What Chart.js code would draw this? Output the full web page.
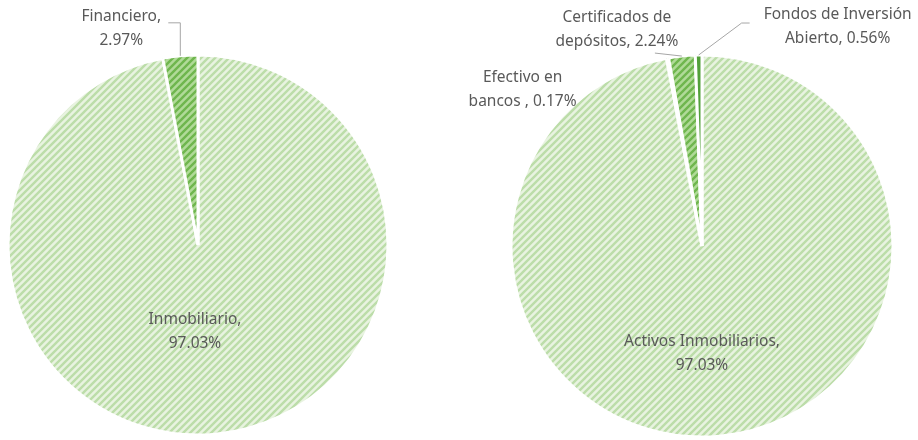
<!DOCTYPE html>
<html>
<head>
<meta charset="utf-8">
<script src="https://cdn.jsdelivr.net/npm/chart.js@4.4.1/dist/chart.umd.min.js"></script>
<style>
  html, body { margin: 0; padding: 0; background: #fff; }
  #wrap { position: relative; width: 918px; height: 440px; overflow: hidden; }
  .box { position: absolute; top: 0; height: 440px; }
  #left { left: 0; width: 396px; }
  #right { left: 459px; width: 459px; }
</style>
</head>
<body>
<div id="wrap">
  <div class="box" id="left"><canvas id="pieLeft"></canvas></div>
  <div class="box" id="right"><canvas id="pieRight"></canvas></div>
</div>
<script>
// Composicion de activos - two pies
const leftCategories = ['Inmobiliario', 'Financiero'];
const leftValues = [97.03, 2.97];

const rightCategories = ['Activos Inmobiliarios', 'Efectivo en bancos ', 'Certificados de depósitos', 'Fondos de Inversión Abierto'];
const rightValues = [97.03, 0.17, 2.24, 0.56];

const TEXT = '#595959';
const LEADER = '#a6a6a6';
const FONT = '15.5px "Noto Sans", sans-serif';

// upward diagonal hatch, like the Excel pattern fill
function hatch(bg, fg) {
  const n = 7;
  const c = document.createElement('canvas');
  c.width = n; c.height = n;
  const g = c.getContext('2d');
  g.fillStyle = bg;
  g.fillRect(0, 0, n, n);
  g.strokeStyle = fg;
  g.lineWidth = 2.4;
  g.beginPath();
  g.moveTo(-1, 1); g.lineTo(1, -1);
  g.moveTo(-1, n + 1); g.lineTo(n + 1, -1);
  g.moveTo(n - 1, n + 1); g.lineTo(n + 1, n - 1);
  g.stroke();
  return g.createPattern(c, 'repeat');
}

const mainFill = hatch('#e8f3e0', '#bcdda9');
const midFill = hatch('#b0da98', '#6fb64e');
const darkFill = '#52a03a';

// label placement: anchor 'center' = pie centre, 'outer' = arc midpoint on the rim
const leftLayout = [
  { brk: 1, anchor: 'center', dx: -3, dy: 87 },
  { brk: 1, anchor: 'outer', dx: -59, dy: -27, leader: [[-12, -33], [0, -33], [0, 0]] }
];
const rightLayout = [
  { brk: 2, anchor: 'center', dx: 0, dy: 108 },
  { brk: 2, anchor: 'outer', dx: -145, dy: 31 },
  { brk: 2, anchor: 'outer', dx: -65, dy: -26, leader: [[-27, -3], [0, 0]] },
  { brk: 3, anchor: 'outer', dx: 139, dy: -28, leader: [[51, -32], [43, -32], [0, 0]] }
];

const pieLabels = {
  id: 'pieLabels',
  afterDatasetsDraw(chart, args, opts) {
    const ctx = chart.ctx;
    const meta = chart.getDatasetMeta(0);
    const values = chart.data.datasets[0].data;
    ctx.save();
    ctx.font = FONT;
    ctx.textAlign = 'center';
    ctx.textBaseline = 'middle';
    meta.data.forEach((arc, i) => {
      const lay = opts.layout[i];
      if (!lay) return;
      const p = arc.getProps(['x', 'y', 'startAngle', 'endAngle', 'outerRadius'], true);
      const mid = (p.startAngle + p.endAngle) / 2;
      let ax = p.x, ay = p.y;
      if (lay.anchor === 'outer') {
        ax = p.x + Math.cos(mid) * p.outerRadius;
        ay = p.y + Math.sin(mid) * p.outerRadius;
      }
      if (lay.leader) {
        ctx.strokeStyle = LEADER;
        ctx.lineWidth = 1;
        ctx.beginPath();
        lay.leader.forEach((pt, k) => {
          const x = ax + pt[0], y = ay + pt[1];
          if (k === 0) ctx.moveTo(x, y); else ctx.lineTo(x, y);
        });
        ctx.stroke();
      }
      const text = chart.data.labels[i] + ', ' + values[i].toFixed(2) + '%';
      const words = text.split(' ');
      const lines = [words.slice(0, lay.brk).join(' '), words.slice(lay.brk).join(' ')];
      const lh = 24;
      const cx = ax + lay.dx, cy = ay + lay.dy;
      ctx.fillStyle = TEXT;
      lines.forEach((ln, k) => {
        ctx.fillText(ln, cx, cy + (k - (lines.length - 1) / 2) * lh);
      });
    });
    ctx.restore();
  }
};

function makePie(id, labels, values, colors, radius, padding, layout) {
  return new Chart(document.getElementById(id), {
    type: 'pie',
    data: {
      labels: labels,
      datasets: [{
        data: values,
        backgroundColor: colors,
        borderColor: '#ffffff',
        borderWidth: 3,
        radius: radius
      }]
    },
    options: {
      responsive: true,
      maintainAspectRatio: false,
      animation: false,
      events: [],
      layout: { padding: padding },
      plugins: {
        legend: { display: false },
        tooltip: { enabled: false },
        pieLabels: { layout: layout }
      }
    },
    plugins: [pieLabels]
  });
}

makePie('pieLeft', leftCategories, leftValues, [mainFill, midFill], 190, { top: 50 }, leftLayout);
makePie('pieRight', rightCategories, rightValues, [mainFill, midFill, midFill, darkFill], 191, { top: 52, left: 27 }, rightLayout);
</script>
</body>
</html>
